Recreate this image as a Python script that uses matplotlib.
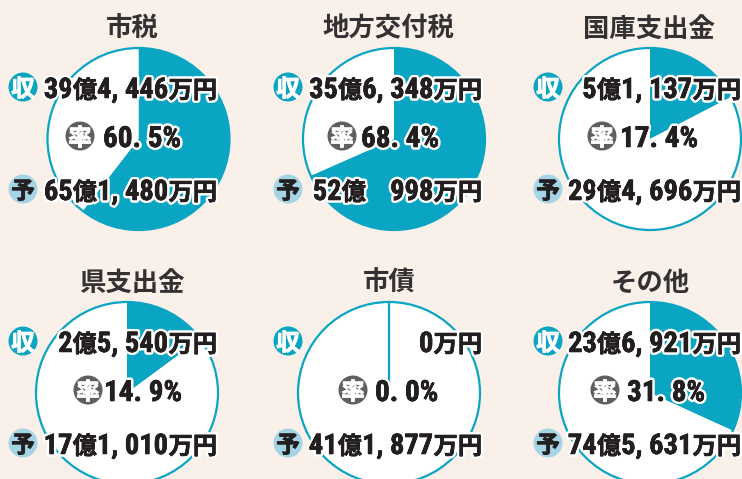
import re
import matplotlib
matplotlib.use('Agg')
import matplotlib.pyplot as plt
from matplotlib.patches import Circle
import matplotlib.patheffects as pe

DIGIT_FONT = ['Roboto Condensed', 'Liberation Sans', 'Noto Sans CJK JP']
CJK_FONT = ['Noto Sans CJK JP', 'DejaVu Sans']
plt.rcParams['font.family'] = CJK_FONT

titles = ['市税', '地方交付税', '国庫支出金', '県支出金', '市債', 'その他']
rates = [60.5, 68.4, 17.4, 14.9, 0.0, 31.8]
rate_labels = ['60. 5%', '68. 4%', '17. 4%', '14. 9%', '0. 0%', '31. 8%']
income_labels = ['39億4, 446万円', '35億6, 348万円', '5億1, 137万円',
                 '2億5, 540万円', '0万円', '23億6, 921万円']
budget_labels = ['65億1, 480万円', '52億　998万円', '29億4, 696万円',
                 '17億1, 010万円', '41億1, 877万円', '74億5, 631万円']

BG = '#faf0ea'
TEAL = '#0aa5c2'
LIGHT = '#a5d5e5'
GREY = '#5f5f5f'
DARK = '#231f20'

centers = [(138.5, 139), (394, 139), (650, 139), (127, 393), (389, 393), (650, 393)]
title_x = [132, 388, 649, 132, 389, 650]
badge_x = [23, 288, 548, 23, 288, 548]
rate_badge_x = [80, 342, 602, 88, 353, 605]
rate_x = [103, 361, 620, 104, 375, 627]
amount_right = [217, 482, 741, 217, 482, 741]
RADIUS = 91

fig = plt.figure(figsize=(7.42, 4.79), dpi=100, facecolor=BG)
ax = fig.add_axes([0, 0, 1, 1])
renderer = fig.canvas.get_renderer()
outline = [pe.withStroke(linewidth=4, foreground='white'),
           pe.Stroke(linewidth=0.4, foreground=DARK), pe.Normal()]


def badge(x, y, char, fc, tc):
    ax.add_patch(Circle((x, y), 14.5, fc=fc, ec='none', zorder=5))
    ax.text(x, y, char, color=tc, fontsize=17, fontweight='bold', family=CJK_FONT, ha='center',
            va='center_baseline', zorder=6,
            path_effects=[pe.Stroke(linewidth=0.6, foreground=tc), pe.Normal()])


def number_text(x, y, s, right=False, digit_size=20.5, cjk_size=17.5):
    # digits and kanji have different sizes, so lay the runs out one after the other
    parts = []
    for run in re.findall(r'[0-9,.% ]+|[^0-9,.% ]+', s):
        is_digit = run[0] in '0123456789,.% '
        t = ax.text(0, y, run, fontsize=digit_size if is_digit else cjk_size, fontweight='bold',
                    family=DIGIT_FONT if is_digit else CJK_FONT, color=DARK, ha='left', va='baseline',
                    zorder=7)
        parts.append((t, t.get_window_extent(renderer).width))
    total = sum(w for _, w in parts)
    pos = x - total if right else x
    for t, w in parts:
        t.set_x(pos)
        t.set_path_effects(outline)
        pos += w


for i, title in enumerate(titles):
    cx, cy = centers[i]
    ax.pie([rates[i], 100 - rates[i]], colors=[TEAL, 'white'], startangle=-90, counterclock=True,
           center=(cx, cy), radius=RADIUS, frame=True)
    ax.add_patch(Circle((cx, cy), RADIUS, fc='none', ec=TEAL, lw=1.6, zorder=3))
    if rates[i] == 0:
        ax.plot([cx, cx], [cy - RADIUS, cy], color=TEAL, lw=1.6, zorder=3)

ax.set_xlim(0, 742)
ax.set_ylim(479, 0)
ax.set_aspect('auto')
ax.axis('off')

for i, title in enumerate(titles):
    cx, cy = centers[i]
    ax.text(title_x[i], cy - 113, title, fontsize=19, fontweight='bold', color='#333132',
            family=CJK_FONT, ha='center', va='center_baseline')

    y_inc, y_rate, y_bud = cy - 52, cy - 3, cy + 50
    badge(badge_x[i], y_inc, '収', TEAL, 'white')
    badge(badge_x[i], y_bud, '予', LIGHT, DARK)
    badge(rate_badge_x[i], y_rate, '率', GREY, 'white')

    number_text(amount_right[i], y_inc + 11, income_labels[i], right=True)
    number_text(amount_right[i], y_bud + 11, budget_labels[i], right=True)
    number_text(rate_x[i], y_rate + 11, rate_labels[i], digit_size=21)

fig.savefig('out.png', dpi=100, facecolor=BG)
